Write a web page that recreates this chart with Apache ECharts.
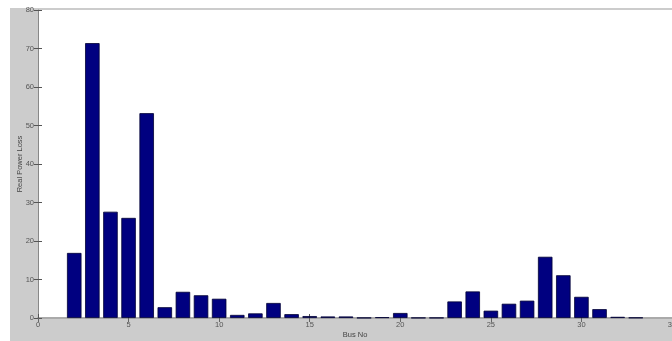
<!DOCTYPE html>
<html>
<head>
<meta charset="utf-8">
<script src="https://cdn.jsdelivr.net/npm/echarts@6/dist/echarts.min.js"></script>
<style>
html,body{margin:0;padding:0;background:#fff;}
#chart{width:672px;height:341px;}
</style>
</head>
<body>
<div id="chart"></div>
<script>
var busNo = [1,2,3,4,5,6,7,8,9,10,11,12,13,14,15,16,17,18,19,20,21,22,23,24,25,26,27,28,29,30,31,32,33];
var realPowerLoss = [null,16.9,71.4,27.6,26.0,53.2,2.8,6.8,5.9,5.0,0.8,1.2,3.9,1.0,0.5,0.4,0.4,0.05,0.2,1.3,0.05,0.05,4.3,6.9,1.9,3.7,4.5,15.9,11.1,5.5,2.3,0.3,0.1];
var xTicks = {min:0, max:35, interval:5};
var yTicks = {min:0, max:80, interval:10};
var xName = 'Bus No';
var yName = 'Real Power Loss';

var chart = echarts.init(document.getElementById('chart'), null, {renderer:'canvas'});
var data = busNo.map(function(b,i){return [b, realPowerLoss[i]];});
var lblStyle = {color:'#555', fontSize:7.5, fontFamily:'Liberation Sans, Arial, sans-serif'};
var option = {
  animation:false,
  backgroundColor:'#ffffff',
  graphic:[{type:'rect', z:-10, shape:{x:10,y:8,width:662,height:333}, style:{fill:'#cccccc'}}],
  grid:{left:38, top:10, right:0, bottom:23, containLabel:false, outerBoundsMode:'none', show:true, backgroundColor:'#ffffff', borderWidth:0},
  xAxis:[{
    type:'value', min:xTicks.min, max:xTicks.max, interval:xTicks.interval, position:'bottom',
    name:xName, nameLocation:'middle', nameGap:13, nameMoveOverlap:false,
    nameTextStyle:{color:'#444', fontSize:7.5, fontFamily:'Liberation Sans, Arial, sans-serif'},
    axisLine:{show:true, lineStyle:{color:'#888', width:1}},
    axisTick:{show:true, inside:true, length:4, lineStyle:{color:'#555'}},
    axisLabel:Object.assign({margin:3}, lblStyle),
    splitLine:{show:false}
  },{
    type:'value', min:xTicks.min, max:xTicks.max, interval:xTicks.interval, position:'top',
    axisLine:{show:true, lineStyle:{color:'#aaa', width:2}},
    axisTick:{show:true, inside:true, length:4, lineStyle:{color:'#666'}},
    axisLabel:{show:false}, splitLine:{show:false}
  }],
  yAxis:[{
    type:'value', min:yTicks.min, max:yTicks.max, interval:yTicks.interval, position:'left',
    name:yName, nameLocation:'middle', nameGap:14, nameRotate:90, nameMoveOverlap:false,
    nameTextStyle:{color:'#444', fontSize:7.5, fontFamily:'Liberation Sans, Arial, sans-serif'},
    axisLine:{show:true, lineStyle:{color:'#888', width:1}},
    axisTick:{show:true, inside:true, length:4, lineStyle:{color:'#555'}},
    axisLabel:Object.assign({margin:4}, lblStyle),
    splitLine:{show:false}
  },{
    type:'value', min:yTicks.min, max:yTicks.max, interval:yTicks.interval, position:'right',
    axisLine:{show:false},
    axisTick:{show:true, inside:true, length:4, lineStyle:{color:'#555'}},
    axisLabel:{show:false}, splitLine:{show:false}
  }],
  series:[{
    type:'bar', xAxisIndex:0, yAxisIndex:0, data:data, barWidth:14.5,
    itemStyle:{color:'#000080', borderColor:'#000033', borderWidth:0.8}
  }]
};
chart.setOption(option);
</script>
</body>
</html>
